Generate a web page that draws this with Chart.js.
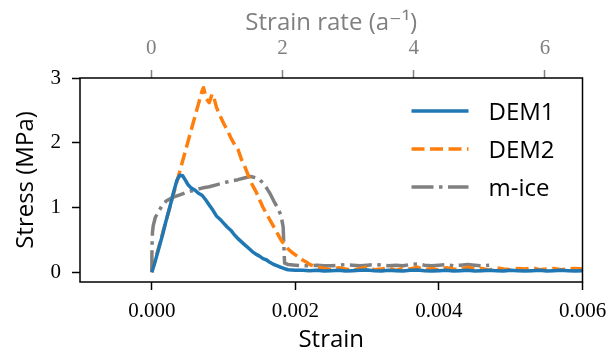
<!DOCTYPE html>
<html><head><meta charset="utf-8">
<script src="https://cdn.jsdelivr.net/npm/chart.js@4.4.1/dist/chart.umd.min.js"></script>
<style>html,body{margin:0;padding:0;background:#fff;} canvas{display:block;}</style>
</head><body>
<canvas id="c" width="610" height="356"></canvas>
<script>
// ---- data ----
const seriesLabels = ['DEM1', 'DEM2', 'm-ice'];

const dem1Strain = [0, 0.00005, 0.0001, 0.00015, 0.0002, 0.00025, 0.0003, 0.00035, 0.00039,
  0.00043, 0.00047, 0.0005, 0.00055, 0.0006, 0.00065, 0.0007, 0.00075, 0.0008, 0.00085,
  0.0009, 0.00095, 0.001, 0.00105, 0.0011, 0.00115, 0.0012, 0.00125, 0.0013, 0.00135,
  0.0014, 0.00145, 0.0015, 0.00155, 0.0016, 0.00165, 0.0017, 0.00175, 0.0018, 0.00185,
  0.0019, 0.00195, 0.002,
  0.0021, 0.0022, 0.0023, 0.0024, 0.0025, 0.0026, 0.0027, 0.0028, 0.0029, 0.003,
  0.0031, 0.0032, 0.0033, 0.0034, 0.0035, 0.0036, 0.0037, 0.0038, 0.0039, 0.004,
  0.0041, 0.0042, 0.0043, 0.0044, 0.0045, 0.0046, 0.0047, 0.0048, 0.0049, 0.005,
  0.0051, 0.0052, 0.0053, 0.0054, 0.0055, 0.0056, 0.0057, 0.0058, 0.0059, 0.006];
const dem1Stress = [0, 0.18, 0.38, 0.58, 0.8, 1.0, 1.22, 1.42, 1.5,
  1.49, 1.42, 1.36, 1.3, 1.27, 1.22, 1.19, 1.12, 1.04, 0.96,
  0.87, 0.82, 0.76, 0.7, 0.65, 0.58, 0.52, 0.47, 0.42, 0.37,
  0.32, 0.28, 0.25, 0.21, 0.19, 0.15, 0.12, 0.1, 0.075, 0.055,
  0.04, 0.035, 0.03,
  0.03, 0.025, 0.03, 0.02, 0.025, 0.03, 0.02, 0.025, 0.03, 0.035,
  0.025, 0.02, 0.03, 0.025, 0.02, 0.03, 0.035, 0.025, 0.02, 0.025,
  0.03, 0.02, 0.025, 0.03, 0.02, 0.025, 0.03, 0.025, 0.02, 0.03,
  0.025, 0.02, 0.025, 0.03, 0.02, 0.025, 0.03, 0.025, 0.02, 0.025];

const dem2Strain = [0, 0.00005, 0.0001, 0.00015, 0.0002, 0.00025, 0.0003, 0.00035, 0.0004,
  0.00045, 0.0005, 0.00055, 0.0006, 0.00065, 0.0007, 0.00072, 0.00076, 0.0008, 0.00084,
  0.00087, 0.0009, 0.00095, 0.001, 0.00105, 0.0011, 0.00115, 0.0012, 0.00125, 0.0013,
  0.00135, 0.0014, 0.00145, 0.0015, 0.00155, 0.0016, 0.00165, 0.0017, 0.00175, 0.0018,
  0.00185, 0.0019, 0.00195, 0.002, 0.00205, 0.0021, 0.00215, 0.0022, 0.00225, 0.0023,
  0.0024, 0.0025, 0.0026, 0.0027, 0.0028, 0.0029, 0.003,
  0.0031, 0.0032, 0.0033, 0.0034, 0.0035, 0.0036, 0.0037, 0.0038, 0.0039, 0.004,
  0.0041, 0.0042, 0.0043, 0.0044, 0.0045, 0.0046, 0.0047, 0.0048, 0.0049, 0.005,
  0.0051, 0.0052, 0.0053, 0.0054, 0.0055, 0.0056, 0.0057, 0.0058, 0.0059, 0.006];
const dem2Stress = [0, 0.2, 0.4, 0.6, 0.8, 1.0, 1.2, 1.4, 1.6,
  1.8, 2.0, 2.2, 2.4, 2.6, 2.8, 2.85, 2.68, 2.62, 2.75,
  2.68, 2.55, 2.42, 2.3, 2.2, 2.08, 1.98, 1.9, 1.74, 1.62,
  1.48, 1.35, 1.25, 1.12, 1.0, 0.9, 0.8, 0.7, 0.6, 0.5,
  0.42, 0.36, 0.31, 0.27, 0.23, 0.19, 0.16, 0.12, 0.1, 0.08,
  0.06, 0.04, 0.07, 0.05, 0.03, 0.06, 0.08,
  0.04, 0.05, 0.07, 0.03, 0.06, 0.05, 0.08, 0.04, 0.06, 0.03,
  0.07, 0.05, 0.04, 0.08, 0.05, 0.06, 0.03, 0.07, 0.05, 0.04,
  0.06, 0.05, 0.07, 0.04, 0.05, 0.06, 0.04, 0.05, 0.06, 0.05];

const miceStrain = [0, 0.000002, 0.000005, 0.00001, 0.00002, 0.00005, 0.0001, 0.00015, 0.0002,
  0.0003, 0.0004, 0.0005, 0.0006, 0.0007, 0.0008, 0.0009, 0.001, 0.0011, 0.0012,
  0.0013, 0.00138, 0.00145, 0.0015, 0.00155, 0.0016, 0.00165, 0.0017, 0.00175, 0.0018,
  0.00183, 0.00184, 0.00185, 0.0019,
  0.002, 0.0021, 0.0022, 0.0023, 0.0024, 0.0025, 0.0026, 0.0027, 0.0028, 0.0029, 0.003,
  0.0031, 0.0032, 0.0033, 0.0034, 0.0035, 0.0036, 0.0037, 0.0038, 0.0039, 0.004,
  0.0041, 0.0042, 0.0043, 0.0044, 0.0045, 0.0046, 0.0047];
const miceStress = [0, 0.3, 0.5, 0.62, 0.72, 0.85, 0.95, 1.04, 1.1,
  1.16, 1.2, 1.24, 1.27, 1.3, 1.32, 1.35, 1.38, 1.41, 1.43,
  1.46, 1.48, 1.46, 1.43, 1.38, 1.3, 1.21, 1.1, 1.0, 0.88,
  0.7, 0.4, 0.14, 0.12,
  0.11, 0.1, 0.1, 0.11, 0.1, 0.1, 0.11, 0.12, 0.11, 0.1, 0.11,
  0.12, 0.11, 0.1, 0.11, 0.1, 0.12, 0.13, 0.11, 0.1, 0.11,
  0.12, 0.1, 0.11, 0.12, 0.11, 0.1, 0.11];

const strainTicks = [0, 0.002, 0.004, 0.006];
const rateTicks = [0, 2, 4, 6];
const stressTicks = [0, 1, 2, 3];

// ---- drawing ----
function pts(xs, ys) {
  const n = Math.min(xs.length, ys.length);
  const out = [];
  for (let i = 0; i < n; i++) out.push({x: xs[i], y: ys[i]});
  return out;
}
const SANS = "'Open Sans', 'DejaVu Sans', sans-serif";
const SERIF = "'Liberation Serif', 'DejaVu Serif', serif";

const bgPlugin = {
  id: 'bg',
  beforeDraw(chart) {
    const c = chart.ctx; c.save(); c.fillStyle = '#fff';
    c.fillRect(0, 0, chart.width, chart.height); c.restore();
  }
};
const framePlugin = {
  id: 'frame',
  afterDatasetsDraw(chart) {
    const c = chart.ctx, a = chart.chartArea;
    c.save(); c.strokeStyle = '#000'; c.lineWidth = 1.5;
    c.strokeRect(a.left, a.top, a.right - a.left, a.bottom - a.top);
    c.restore();
  }
};
const legendPlugin = {
  id: 'innerLegend',
  afterDraw(chart) {
    const c = chart.ctx, a = chart.chartArea;
    const x0 = a.right - 171, x1 = x0 + 57, tx = x1 + 20;
    let y = a.top + 33;
    chart.data.datasets.forEach(ds => {
      c.save();
      c.strokeStyle = ds.borderColor; c.lineWidth = ds.borderWidth;
      c.setLineDash(ds.borderDash || []);
      c.beginPath(); c.moveTo(x0, y); c.lineTo(x1, y); c.stroke();
      c.restore();
      c.save(); c.fillStyle = '#000'; c.font = '24px ' + SANS;
      c.textBaseline = 'alphabetic'; c.fillText(ds.label, tx, y + 8.6);
      c.restore();
      y += 38;
    });
  }
};

const lineBase = {pointRadius: 0, borderWidth: 3.5, tension: 0, fill: false,
  borderJoinStyle: 'round', xAxisID: 'x', yAxisID: 'y'};

function fitH(h) {
  return s => { s.height = h; s.paddingLeft = 0; s.paddingRight = 0; };
}

new Chart(document.getElementById('c'), {
  type: 'line',
  data: {
    datasets: [
      Object.assign({label: seriesLabels[0], data: pts(dem1Strain, dem1Stress), borderColor: '#1f77b4'}, lineBase),
      Object.assign({label: seriesLabels[1], data: pts(dem2Strain, dem2Stress), borderColor: '#ff7f0e', borderDash: [13, 5.5]}, lineBase),
      Object.assign({label: seriesLabels[2], data: pts(miceStrain, miceStress), borderColor: '#808080', borderDash: [22, 5.5, 3.5, 5.5]}, lineBase)
    ]
  },
  options: {
    responsive: false, animation: false, devicePixelRatio: 1,
    layout: {padding: {left: 0, right: 27.5, top: 0, bottom: 0}},
    plugins: {legend: {display: false}, tooltip: {enabled: false}},
    scales: {
      x: {
        type: 'linear', position: 'bottom', min: -0.001, max: 0.006,
        afterBuildTicks: s => { s.ticks = strainTicks.map(v => ({value: v})); },
        afterFit: fitH(74),
        ticks: {font: {family: SERIF, size: 21}, color: '#000', padding: 9, maxRotation: 0,
          autoSkip: false, callback: v => Number(v).toFixed(3)},
        grid: {drawOnChartArea: false, drawTicks: true, tickLength: 8, tickColor: '#000', tickWidth: 1.5},
        border: {display: false},
        title: {display: true, text: 'Strain', color: '#000',
          font: {family: SANS, size: 24, lineHeight: 1}, padding: {top: 0, bottom: 4}}
      },
      x2: {
        type: 'linear', position: 'top', min: -1.086, max: 6.572,
        afterBuildTicks: s => { s.ticks = rateTicks.map(v => ({value: v})); },
        afterFit: fitH(78),
        ticks: {font: {family: SERIF, size: 21}, color: '#808080', padding: 9, maxRotation: 0,
          autoSkip: false, callback: v => String(v)},
        grid: {drawOnChartArea: false, drawTicks: true, tickLength: 8, tickColor: '#808080', tickWidth: 1.5},
        border: {display: false},
        title: {display: true, text: 'Strain rate (a\u207B\u00B9)', color: '#808080',
          font: {family: SANS, size: 24, lineHeight: 1}, padding: {top: 11, bottom: 0}}
      },
      y: {
        type: 'linear', position: 'left', min: -0.15, max: 3.0,
        afterBuildTicks: s => { s.ticks = stressTicks.map(v => ({value: v})); },
        afterFit: s => { s.width = 80; s.paddingTop = 0; s.paddingBottom = 0; },
        ticks: {font: {family: SERIF, size: 21}, color: '#000', padding: 11,
          callback: v => String(v)},
        grid: {drawOnChartArea: false, drawTicks: true, tickLength: 8, tickColor: '#000', tickWidth: 1.5},
        border: {display: false},
        title: {display: true, text: 'Stress (MPa)', color: '#000',
          font: {family: SANS, size: 24, lineHeight: 1}, padding: {top: 14, bottom: 0}}
      }
    }
  },
  plugins: [bgPlugin, framePlugin, legendPlugin]
});
</script>
</body></html>
